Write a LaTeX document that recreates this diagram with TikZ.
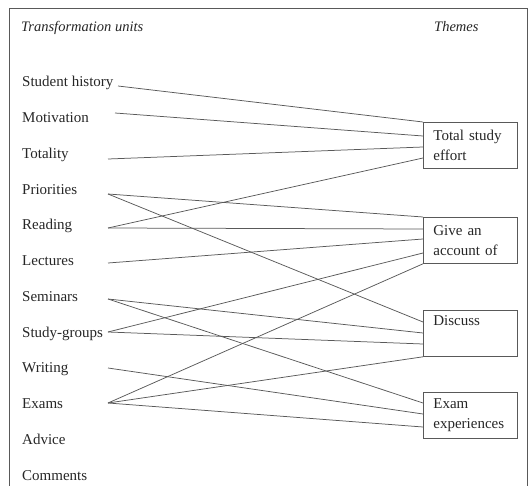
\documentclass[tikz,border=0pt]{standalone}
\usepackage{fontspec}
\setmainfont{Liberation Serif}
\usetikzlibrary{calc}
\definecolor{linec}{gray}{0.35}
\definecolor{txtc}{gray}{0.15}
\begin{document}
\begin{tikzpicture}[x=1pt,y=-1pt,
  lbl/.style={anchor=base west, inner sep=0pt, text=txtc, font=\fontsize{15}{18}\selectfont},
  hdr/.style={anchor=base west, inner sep=0pt, text=txtc, font=\fontsize{14.5}{17}\selectfont\itshape},
  theme/.style={draw=linec, line width=0.8pt, anchor=north west, minimum height=46pt,
    text width=74pt, inner xsep=10pt, inner ysep=4pt, align=left, text=txtc,
    font=\fontsize{15}{20}\selectfont},
  link/.style={draw=linec, line width=0.75pt},
  frame/.style={draw=linec, line width=0.8pt}]
\useasboundingbox (0,0) rectangle (529,486);
% outer frame (open at the bottom)
\draw[frame] (9.5,486) -- (9.5,8) -- (527,8) -- (527,486);
% headers
\node[hdr] (h1) at (21,32) {Transformation units};
\node[hdr] (h2) at (434,32) {Themes};
% transformation units
\node[lbl] (sh) at (22,87) {Student history};
\node[lbl] (mo) at (22,122.5) {Motivation};
\node[lbl] (to) at (22,158.5) {Totality};
\node[lbl] (pr) at (22,194) {Priorities};
\node[lbl] (re) at (22,229.5) {Reading};
\node[lbl] (le) at (22,265.5) {Lectures};
\node[lbl] (se) at (22,301) {Seminars};
\node[lbl] (sg) at (22,337) {Study-groups};
\node[lbl] (wr) at (22,372.5) {Writing};
\node[lbl] (ex) at (22,408) {Exams};
\node[lbl] (ad) at (22,444) {Advice};
\node[lbl] (co) at (22,480) {Comments};
% line start points
\coordinate (sh-e) at (118,86);
\coordinate (mo-e) at (115,113);
\coordinate (to-e) at (108,159);
\coordinate (pr-e) at (108,194);
\coordinate (re-e) at (108,228);
\coordinate (le-e) at (108,263);
\coordinate (se-e) at (108,299);
\coordinate (sg-e) at (108,332);
\coordinate (wr-e) at (108,368);
\coordinate (ex-e) at (108,403);
% themes
\node[theme] (tse) at (423,122) {Total study\\effort};
\node[theme] (gac) at (423,217) {Give an\\account of};
\node[theme] (dis) at (423,310) {Discuss\\\strut};
\node[theme] (eex) at (423,392) {Exam\\experiences};
% connectors
\draw[link] (sh-e) -- (tse.north west);
\draw[link] (mo-e) -- ($(tse.north west)+(0,14)$);
\draw[link] (to-e) -- ($(tse.north west)+(0,25)$);
\draw[link] (re-e) -- ($(tse.north west)+(0,36)$);
\draw[link] (pr-e) -- (gac.north west);
\draw[link] (re-e) -- ($(gac.north west)+(0,12)$);
\draw[link] (le-e) -- ($(gac.north west)+(0,22)$);
\draw[link] (sg-e) -- ($(gac.north west)+(0,36)$);
\draw[link] (ex-e) -- (gac.south west);
\draw[link] (pr-e) -- ($(dis.north west)+(0,12)$);
\draw[link] (se-e) -- ($(dis.north west)+(0,23)$);
\draw[link] (sg-e) -- ($(dis.north west)+(0,34)$);
\draw[link] (ex-e) -- (dis.south west);
\draw[link] (se-e) -- ($(eex.north west)+(0,11)$);
\draw[link] (wr-e) -- ($(eex.north west)+(0,22)$);
\draw[link] (ex-e) -- ($(eex.north west)+(0,35)$);
\end{tikzpicture}
\end{document}
